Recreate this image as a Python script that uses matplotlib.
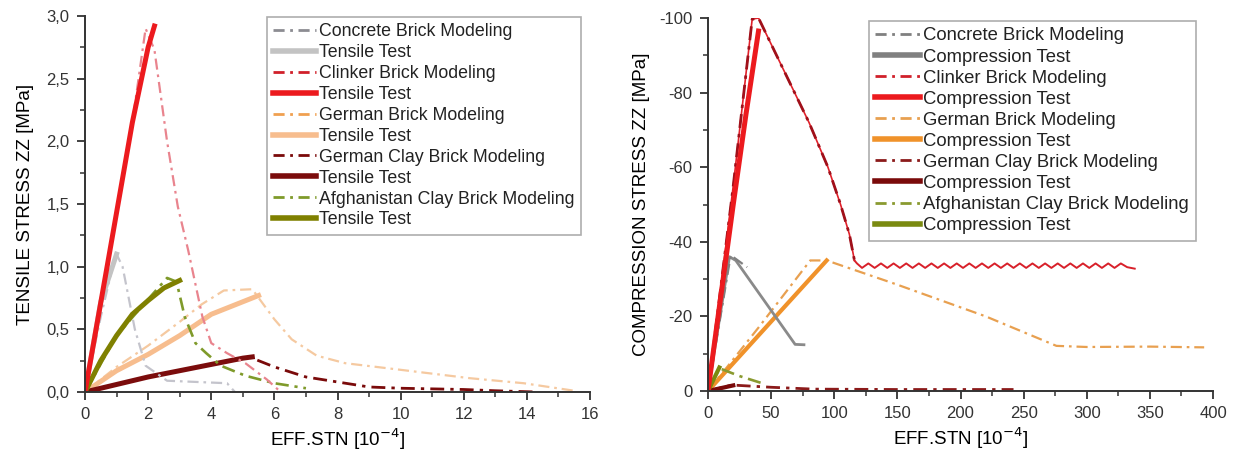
import matplotlib.pyplot as plt
from matplotlib.ticker import MultipleLocator, FuncFormatter
from matplotlib.lines import Line2D

plt.rcParams['font.family'] = ['Liberation Sans', 'DejaVu Sans']
plt.rcParams['axes.unicode_minus'] = False

# ---------------- tensile data (strain 1e-4, stress MPa) ----------------
t_conc_mod_x = [0, 0.5, 0.98, 1.19, 1.58, 1.92, 2.6, 4.5, 4.75]
t_conc_mod_y = [0, 0.6, 1.11, 1.0, 0.5, 0.21, 0.09, 0.07, 0.0]
t_conc_test_x = [0, 0.5, 1.0]
t_conc_test_y = [0, 0.72, 1.1]

t_clink_mod_x = [0, 0.7, 1.5, 1.92, 2.2, 2.6, 2.94, 3.27, 3.72, 4.0, 4.5, 5.08, 5.76, 6.2]
t_clink_mod_y = [0, 1.0, 2.15, 2.9, 2.73, 2.0, 1.48, 1.13, 0.6, 0.39, 0.31, 0.23, 0.10, 0.0]
t_clink_test_x = [0, 0.7, 1.5, 2.0, 2.2]
t_clink_test_y = [0, 1.0, 2.15, 2.75, 2.92]

t_germ_mod_x = [0, 1, 2, 3, 3.7, 4.4, 5.3, 6.0, 6.55, 7.34, 8.24, 9.9, 12.2, 13.9, 15.5]
t_germ_mod_y = [0, 0.2, 0.37, 0.56, 0.7, 0.81, 0.82, 0.58, 0.42, 0.29, 0.23, 0.18, 0.11, 0.07, 0.01]
t_germ_test_x = [0, 1, 2, 3, 4, 5, 5.5]
t_germ_test_y = [0, 0.17, 0.3, 0.45, 0.62, 0.72, 0.77]

t_clay_mod_x = [0, 2, 4, 5.2, 6, 7, 8, 9, 10, 12, 13, 14.3]
t_clay_mod_y = [0, 0.12, 0.22, 0.28, 0.2, 0.12, 0.08, 0.04, 0.03, 0.02, 0.01, 0.0]
t_clay_test_x = [0, 1, 2, 3, 4, 5, 5.3]
t_clay_test_y = [0, 0.06, 0.12, 0.17, 0.22, 0.27, 0.28]

t_afg_mod_x = [0, 1.0, 2.0, 2.6, 2.9, 3.16, 3.5, 3.84, 4.3, 5.08, 6.0, 7.0]
t_afg_mod_y = [0, 0.45, 0.74, 0.91, 0.88, 0.6, 0.39, 0.31, 0.21, 0.13, 0.07, 0.03]
t_afg_test_x = [0, 0.5, 1.0, 1.5, 2.0, 2.5, 3.0]
t_afg_test_y = [0, 0.25, 0.45, 0.62, 0.73, 0.83, 0.89]

# ---------------- compression data ----------------
c_conc_mod_x = [0, 18, 31]
c_conc_mod_y = [0, -36.4, -33.2]
c_conc_test_x = [0, 17, 22, 45, 69, 76]
c_conc_test_y = [0, -36, -35, -24, -12.5, -12.4]

c_clink_mod_x = [0, 20, 35, 40, 60, 80, 95, 105, 112, 116]
c_clink_mod_y = [0, -55, -99.7, -100, -86, -72, -60, -50, -42, -35]
c_clink_tail_x = [116, 118, 122, 127, 132, 137, 142, 147, 152, 157, 162, 167, 172, 177,
                  182, 187, 192, 197, 202, 207, 212, 217, 222, 227, 232, 237, 242, 247,
                  252, 257, 262, 267, 272, 277, 282, 287, 292, 297, 302, 307, 312, 317,
                  322, 327, 332, 338]
c_clink_tail_y = [-35, -34.2, -33.0, -34.2, -33.0, -34.2, -33.0, -34.2, -33.0, -34.2, -33.0,
                  -34.2, -33.0, -34.2, -33.0, -34.2, -33.0, -34.2, -33.0, -34.2, -33.0, -34.2,
                  -33.0, -34.2, -33.0, -34.2, -33.0, -34.2, -33.0, -34.2, -33.0, -34.2, -33.0,
                  -34.2, -33.0, -34.2, -33.0, -34.2, -33.0, -34.2, -33.0, -34.2, -33.0, -34.2,
                  -33.2, -32.8]
c_clink_test_x = [0, 10, 20, 30, 40]
c_clink_test_y = [0, -25, -50, -74, -96.5]

c_germ_mod_x = [0, 40, 81, 94, 150, 220, 276, 300, 350, 393]
c_germ_mod_y = [0, -17, -35, -35, -28.5, -20, -12.1, -11.8, -11.9, -11.7]
c_germ_test_x = [0, 94]
c_germ_test_y = [0, -35]

c_clay_mod_x = [0, 19, 50, 84, 150, 242]
c_clay_mod_y = [0, -1.6, -1.0, -0.5, -0.4, -0.4]
c_clay_test_x = [0, 20]
c_clay_test_y = [0, -1.5]

c_afg_mod_x = [0, 9, 25, 45.5]
c_afg_mod_y = [0, -6.1, -4.0, -1.8]
c_afg_test_x = [0, 9]
c_afg_test_y = [0, -6.3]

DD = (5, 2.2, 1.2, 2.2)
MW = 1.6
TW = 3.6

fig = plt.figure(figsize=(12.34, 4.54), dpi=100)
W, H = 1234, 454
ax1 = fig.add_axes([85 / W, (H - 392) / H, 505 / W, 376 / H])
ax2 = fig.add_axes([708 / W, (H - 391) / H, 505 / W, 373 / H])

# ---- left: tensile ----
ax1.plot(t_germ_mod_x, t_germ_mod_y, color='#f5c9a0', lw=MW, dashes=DD)
ax1.plot(t_germ_test_x, t_germ_test_y, color='#f7bd8e', lw=TW)
ax1.plot(t_clay_mod_x, t_clay_mod_y, color='#7a0a0a', lw=MW + 0.4, dashes=DD)
ax1.plot(t_clay_test_x, t_clay_test_y, color='#7b0c0c', lw=TW)
ax1.plot(t_conc_mod_x, t_conc_mod_y, color='#c4c4cc', lw=MW, dashes=DD)
ax1.plot(t_conc_test_x, t_conc_test_y, color='#c3c3c3', lw=TW)
ax1.plot(t_afg_mod_x, t_afg_mod_y, color='#7f9a2a', lw=MW + 0.3, dashes=DD)
ax1.plot(t_afg_test_x, t_afg_test_y, color='#7f8000', lw=TW)
ax1.plot(t_clink_mod_x, t_clink_mod_y, color='#e9848e', lw=MW, dashes=DD)
ax1.plot(t_clink_test_x, t_clink_test_y, color='#ec1a1e', lw=TW)

ax1.set_xlim(0, 16)
ax1.set_ylim(0, 3)
ax1.xaxis.set_major_locator(MultipleLocator(2))
ax1.xaxis.set_minor_locator(MultipleLocator(1))
ax1.yaxis.set_major_locator(MultipleLocator(0.5))
ax1.yaxis.set_minor_locator(MultipleLocator(0.25))
ax1.yaxis.set_major_formatter(FuncFormatter(lambda v, p: f'{v:.1f}'.replace('.', ',')))
ax1.set_ylabel('TENSILE STRESS ZZ [MPa]', fontsize=13.5, labelpad=9)
ax1.set_xlabel(r'EFF.STN [10$^{-4}$]', fontsize=13.5, labelpad=3)

# ---- right: compression ----
ax2.plot(c_germ_mod_x, c_germ_mod_y, color='#e8a050', lw=MW, dashes=DD)
ax2.plot(c_germ_test_x, c_germ_test_y, color='#f0922a', lw=TW - 0.6)
ax2.plot(c_conc_test_x, c_conc_test_y, color='#8a8a8a', lw=2.0)
ax2.plot(c_conc_mod_x, c_conc_mod_y, color='#808080', lw=MW, dashes=DD)
ax2.plot(c_clay_mod_x, c_clay_mod_y, color='#8b1a1a', lw=MW + 0.4, dashes=DD)
ax2.plot(c_clay_test_x, c_clay_test_y, color='#7a0a0a', lw=TW - 0.6)
ax2.plot(c_afg_mod_x, c_afg_mod_y, color='#8a9a30', lw=MW + 0.3, dashes=DD)
ax2.plot(c_afg_test_x, c_afg_test_y, color='#7a8a10', lw=TW - 0.6)
ax2.plot(c_clink_mod_x, c_clink_mod_y, color='#e0202a', lw=1.2)
ax2.plot(c_clink_tail_x, c_clink_tail_y, color='#d8202a', lw=1.4)
ax2.plot(c_clink_mod_x, c_clink_mod_y, color='#a0101a', lw=MW + 0.4, dashes=DD)
ax2.plot(c_clink_test_x, c_clink_test_y, color='#ec1a1e', lw=TW)

ax2.set_xlim(0, 400)
ax2.set_ylim(0, -100)
ax2.xaxis.set_major_locator(MultipleLocator(50))
ax2.xaxis.set_minor_locator(MultipleLocator(25))
ax2.yaxis.set_major_locator(MultipleLocator(20))
ax2.yaxis.set_minor_locator(MultipleLocator(10))
ax2.set_ylabel('COMPRESSION STRESS ZZ [MPa]', fontsize=13.5, labelpad=7)
ax2.set_xlabel(r'EFF.STN [10$^{-4}$]', fontsize=13.5, labelpad=3)

for ax in (ax1, ax2):
    for s in ('top', 'right'):
        ax.spines[s].set_visible(False)
    for s in ('left', 'bottom'):
        ax.spines[s].set_color('#333333')
        ax.spines[s].set_linewidth(1.4)
    ax.tick_params(which='major', direction='out', length=6, width=1.3,
                   labelsize=12, colors='#333333', pad=5)
    ax.tick_params(which='minor', direction='out', length=3.5, width=1.1,
                   colors='#333333')
    ax.tick_params(labelcolor='#333333')

# ---- legends ----
left_entries = [
    ('Concrete Brick Modeling', '#8c8c92', 'mod'),
    ('Tensile Test', '#c3c3c3', 'test'),
    ('Clinker Brick Modeling', '#d0202a', 'mod'),
    ('Tensile Test', '#ec1a1e', 'test'),
    ('German Brick Modeling', '#f0a050', 'mod'),
    ('Tensile Test', '#f7bd8e', 'test'),
    ('German Clay Brick Modeling', '#7a0a0a', 'mod'),
    ('Tensile Test', '#7b0c0c', 'test'),
    ('Afghanistan Clay Brick Modeling', '#7f9a2a', 'mod'),
    ('Tensile Test', '#7f8000', 'test'),
]
right_entries = [
    ('Concrete Brick Modeling', '#808080', 'mod'),
    ('Compression Test', '#808080', 'test'),
    ('Clinker Brick Modeling', '#d0202a', 'mod'),
    ('Compression Test', '#ec1a1e', 'test'),
    ('German Brick Modeling', '#e8a050', 'mod'),
    ('Compression Test', '#f0922a', 'test'),
    ('German Clay Brick Modeling', '#8b1a1a', 'mod'),
    ('Compression Test', '#7a0a0a', 'test'),
    ('Afghanistan Clay Brick Modeling', '#8a9a30', 'mod'),
    ('Compression Test', '#7a8a10', 'test'),
]


def handles_for(entries):
    hs = []
    for label, col, kind in entries:
        if kind == 'mod':
            hs.append(Line2D([], [], color=col, lw=2.0, dashes=(4, 2, 1, 2), label=label))
        else:
            hs.append(Line2D([], [], color=col, lw=4.0, label=label))
    return hs


legend_setup = ((ax1, left_entries, (267, 17), 12.8),
                (ax2, right_entries, (869, 21), 13.3))
for ax, entries, (lx, ly), fs in legend_setup:
    leg = ax.legend(handles=handles_for(entries), loc='upper left',
                    bbox_to_anchor=(lx / W, 1 - ly / H), bbox_transform=fig.transFigure,
                    borderaxespad=0, fontsize=fs, frameon=True, fancybox=False,
                    handlelength=2.4, handletextpad=0.2, labelspacing=0.22,
                    borderpad=0.35)
    leg.get_frame().set_edgecolor('#999999')
    leg.get_frame().set_linewidth(1.2)
    for t in leg.get_texts():
        t.set_color('#222222')

fig.savefig('out.png', dpi=100)
